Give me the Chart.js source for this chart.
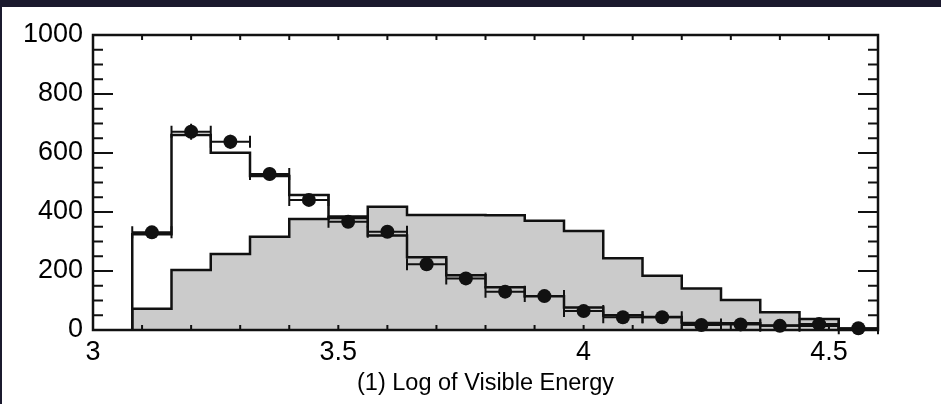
<!DOCTYPE html>
<html>
<head>
<meta charset="utf-8">
<script src="https://cdn.jsdelivr.net/npm/chart.js@4"></script>
<style>
  html, body { margin: 0; padding: 0; background: #1b1a2e; }
  #wrap { position: absolute; left: 2px; top: 7px; width: 939px; height: 397px; background: #ffffff; }
  canvas { display: block; }
</style>
</head>
<body>
<div id="wrap"><canvas id="chart-energy" width="939" height="397"></canvas></div>
<script>
// bin edges of the log(visible energy) histograms
const binEdges = [3.08, 3.16, 3.24, 3.32, 3.40, 3.48, 3.56, 3.64, 3.72, 3.80,
                  3.88, 3.96, 4.04, 4.12, 4.20, 4.28, 4.36, 4.44, 4.52, 4.60];
const binCenters = [3.12, 3.20, 3.28, 3.36, 3.44, 3.52, 3.60, 3.68, 3.76, 3.84,
                    3.92, 4.00, 4.08, 4.16, 4.24, 4.32, 4.40, 4.48, 4.56];

// shaded simulation
const simFilled = [72, 203, 258, 316, 376, 380, 418, 390, 390, 389,
                   370, 336, 243, 184, 141, 102, 60, 37, 4];
// open simulation
const simOutline = [325, 661, 601, 522, 458, 385, 320, 247, 186, 145,
                    114, 76, 50, 44, 24, 23, 15, 14, 3];
// measured counts and their errors
const dataCounts = [331, 672, 638, 529, 441, 367, 333, 223, 175, 130,
                    115, 64, 43, 43, 17, 19, 14, 20, 6];
const dataErrors = [18, 27, 24, 22, 20, 18, 17, 14, 12, 11,
                    10, 8, 6, 6, 4, 4, 4, 4, 2];

const xTickValues = [3, 3.5, 4, 4.5];
const yTickValues = [0, 200, 400, 600, 800, 1000];

function stepPoints(values) {
  const pts = [{ x: binEdges[0], y: 0 }];
  values.forEach((v, i) => pts.push({ x: binEdges[i], y: v }));
  pts.push({ x: binEdges[binEdges.length - 1], y: 0 });
  return pts;
}

const INK = "#111111";
const FONT = "'Liberation Sans', Arial, sans-serif";

// horizontal (bin width) and vertical error bars under the markers
const errorBars = {
  id: "errorBars",
  beforeDatasetDraw(chart, args) {
    if (args.index !== 0) return;
    const { ctx, scales: { x, y } } = chart;
    ctx.save();
    ctx.strokeStyle = INK;
    ctx.lineWidth = 2;
    dataCounts.forEach((v, i) => {
      const x0 = x.getPixelForValue(binEdges[i]);
      const x1 = x.getPixelForValue(binEdges[i + 1]);
      const xc = x.getPixelForValue(binCenters[i]);
      const yc = y.getPixelForValue(v);
      ctx.beginPath();
      ctx.moveTo(x0, yc); ctx.lineTo(x1, yc);
      ctx.moveTo(x0, yc - 6); ctx.lineTo(x0, yc + 6);
      ctx.moveTo(x1, yc - 6); ctx.lineTo(x1, yc + 6);
      ctx.moveTo(xc, y.getPixelForValue(v - dataErrors[i]));
      ctx.lineTo(xc, y.getPixelForValue(v + dataErrors[i]));
      ctx.stroke();
    });
    ctx.restore();
  }
};

// box frame with inward ticks on all four sides
const frame = {
  id: "frame",
  afterDatasetsDraw(chart) {
    const { ctx, chartArea: a, scales: { x, y } } = chart;
    ctx.save();
    ctx.strokeStyle = INK;
    ctx.lineWidth = 2;
    ctx.beginPath();
    for (let k = 0; k <= 16; k++) {
      const px = x.getPixelForValue(3 + k * 0.1);
      ctx.moveTo(px, a.bottom); ctx.lineTo(px, a.bottom - 5);
      ctx.moveTo(px, a.top); ctx.lineTo(px, a.top + 5);
    }
    for (let k = 0; k <= 20; k++) {
      const py = y.getPixelForValue(k * 50);
      const len = k % 4 === 0 ? 20 : 10;
      ctx.moveTo(a.left, py); ctx.lineTo(a.left + len, py);
      ctx.moveTo(a.right, py); ctx.lineTo(a.right - len, py);
    }
    ctx.stroke();
    ctx.lineWidth = 2.5;
    ctx.strokeRect(a.left, a.top, a.right - a.left, a.bottom - a.top);
    ctx.restore();
  }
};

const ctx = document.getElementById("chart-energy").getContext("2d");

new Chart(ctx, {
  type: "line",
  data: {
    datasets: [
      {
        type: "scatter",
        data: binCenters.map((c, i) => ({ x: c, y: dataCounts[i] })),
        pointRadius: 7,
        pointBackgroundColor: INK,
        pointBorderColor: INK,
        pointBorderWidth: 0,
        showLine: false,
        clip: false
      },
      {
        data: stepPoints(simOutline),
        stepped: true,
        borderColor: INK,
        borderWidth: 2.5,
        pointRadius: 0,
        fill: false
      },
      {
        data: stepPoints(simFilled),
        stepped: true,
        borderColor: INK,
        borderWidth: 2.5,
        backgroundColor: "#cbcbcb",
        pointRadius: 0,
        fill: "origin"
      }
    ]
  },
  options: {
    responsive: false,
    animation: false,
    devicePixelRatio: 1,
    layout: { padding: { top: 28, right: 63, left: 0, bottom: 0 } },
    plugins: {
      legend: { display: false },
      tooltip: { enabled: false }
    },
    scales: {
      x: {
        type: "linear",
        min: 3,
        max: 4.6,
        grid: { display: false, drawTicks: false },
        border: { display: false },
        afterBuildTicks: scale => { scale.ticks = xTickValues.map(v => ({ value: v })); },
        afterFit: scale => { scale.height = 74; },
        ticks: {
          padding: 6,
          maxRotation: 0,
          color: "#000",
          font: { family: FONT, size: 27 },
          callback: v => String(v)
        },
        title: {
          display: true,
          text: "(1) Log of Visible Energy",
          color: "#000",
          padding: { top: 0, bottom: 6 },
          font: { family: FONT, size: 23.5 }
        }
      },
      y: {
        min: 0,
        max: 1000,
        grid: { display: false, drawTicks: false },
        border: { display: false },
        afterBuildTicks: scale => { scale.ticks = yTickValues.map(v => ({ value: v })); },
        afterFit: scale => { scale.width = 91; },
        ticks: {
          padding: 10,
          color: "#000",
          font: { family: FONT, size: 27 },
          callback: v => String(v)
        }
      }
    }
  },
  plugins: [errorBars, frame]
});
</script>
</body>
</html>
